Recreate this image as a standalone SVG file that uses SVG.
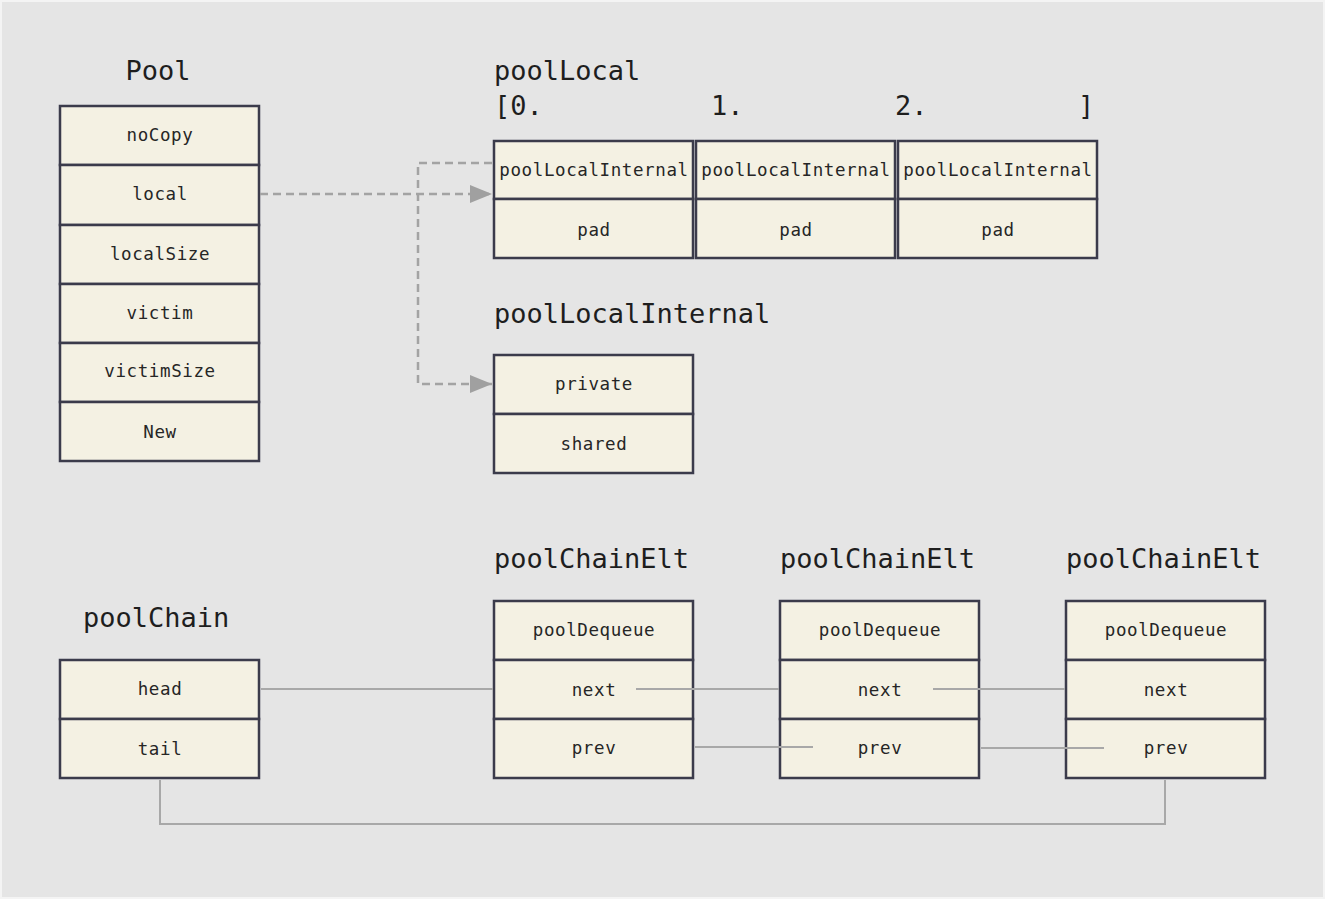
<svg xmlns="http://www.w3.org/2000/svg" width="1325" height="899" viewBox="0 0 1325 899">
<style>
.bg{fill:#e5e5e5;stroke:#f4f4f4;stroke-width:2}
.cell{fill:#f4f1e3;stroke:#3b3b4b;stroke-width:2.5}
.t{font-family:"DejaVu Sans Mono","Liberation Mono",monospace;font-size:17.5px;fill:#262626;text-anchor:middle;letter-spacing:0.6px}
.h{font-family:"DejaVu Sans Mono","Liberation Mono",monospace;font-size:27px;fill:#1e1e1e}
.dash{fill:none;stroke:#a3a3a3;stroke-width:2.5;stroke-dasharray:8 5}
.sol{fill:none;stroke:#a8a8a8;stroke-width:2}
</style>
<defs>
<marker id="arr" markerWidth="22" markerHeight="18" refX="22" refY="9" orient="auto" markerUnits="userSpaceOnUse">
<path d="M0,0 L22,9 L0,18 Z" fill="#a0a0a0"/>
</marker>
</defs>
<rect class="bg" x="1" y="1" width="1323" height="897"/>

<g id="pool">
<text class="h" x="158" y="80" text-anchor="middle">Pool</text>
<rect class="cell" x="60" y="106" width="199" height="59"/>
<rect class="cell" x="60" y="165" width="199" height="60"/>
<rect class="cell" x="60" y="225" width="199" height="59"/>
<rect class="cell" x="60" y="284" width="199" height="59"/>
<rect class="cell" x="60" y="343" width="199" height="59"/>
<rect class="cell" x="60" y="402" width="199" height="59"/>
<text class="t" x="160" y="141">noCopy</text>
<text class="t" x="160" y="200">local</text>
<text class="t" x="160" y="260">localSize</text>
<text class="t" x="160" y="319">victim</text>
<text class="t" x="160" y="377">victimSize</text>
<text class="t" x="160" y="438">New</text>
</g>

<g id="poolLocal">
<text class="h" x="494" y="80">poolLocal</text>
<text class="h" x="494" y="115">[0.</text>
<text class="h" x="711" y="115">1.</text>
<text class="h" x="895" y="115">2.</text>
<text class="h" x="1078" y="115">]</text>
<rect class="cell" x="494" y="141" width="199" height="58"/>
<rect class="cell" x="494" y="199" width="199" height="59"/>
<rect class="cell" x="696" y="141" width="199" height="58"/>
<rect class="cell" x="696" y="199" width="199" height="59"/>
<rect class="cell" x="898" y="141" width="199" height="58"/>
<rect class="cell" x="898" y="199" width="199" height="59"/>
<text class="t" x="594" y="176">poolLocalInternal</text>
<text class="t" x="796" y="176">poolLocalInternal</text>
<text class="t" x="998" y="176">poolLocalInternal</text>
<text class="t" x="594" y="236">pad</text>
<text class="t" x="796" y="236">pad</text>
<text class="t" x="998" y="236">pad</text>
</g>

<g id="poolLocalInternal">
<text class="h" x="494" y="323">poolLocalInternal</text>
<rect class="cell" x="494" y="355" width="199" height="59"/>
<rect class="cell" x="494" y="414" width="199" height="59"/>
<text class="t" x="594" y="390">private</text>
<text class="t" x="594" y="450">shared</text>
</g>

<g id="poolChain">
<text class="h" x="83" y="627">poolChain</text>
<rect class="cell" x="60" y="660" width="199" height="59"/>
<rect class="cell" x="60" y="719" width="199" height="59"/>
<text class="t" x="160" y="695">head</text>
<text class="t" x="160" y="755">tail</text>
</g>

<g id="poolChainElt1">
<text class="h" x="494" y="568">poolChainElt</text>
<rect class="cell" x="494" y="601" width="199" height="59"/>
<rect class="cell" x="494" y="660" width="199" height="59"/>
<rect class="cell" x="494" y="719" width="199" height="59"/>
<text class="t" x="594" y="636">poolDequeue</text>
<text class="t" x="594" y="696">next</text>
<text class="t" x="594" y="754">prev</text>
</g>

<g id="poolChainElt2">
<text class="h" x="780" y="568">poolChainElt</text>
<rect class="cell" x="780" y="601" width="199" height="59"/>
<rect class="cell" x="780" y="660" width="199" height="59"/>
<rect class="cell" x="780" y="719" width="199" height="59"/>
<text class="t" x="880" y="636">poolDequeue</text>
<text class="t" x="880" y="696">next</text>
<text class="t" x="880" y="754">prev</text>
</g>

<g id="poolChainElt3">
<text class="h" x="1066" y="568">poolChainElt</text>
<rect class="cell" x="1066" y="601" width="199" height="59"/>
<rect class="cell" x="1066" y="660" width="199" height="59"/>
<rect class="cell" x="1066" y="719" width="199" height="59"/>
<text class="t" x="1166" y="636">poolDequeue</text>
<text class="t" x="1166" y="696">next</text>
<text class="t" x="1166" y="754">prev</text>
</g>

<g id="connectors">
<path class="dash" d="M260,194 H492" marker-end="url(#arr)"/>
<path class="dash" d="M492,163 H418 V384 H492" marker-end="url(#arr)"/>
<path class="sol" d="M261,689 H493"/>
<path class="sol" d="M636,689 H779"/>
<path class="sol" d="M933,689 H1065"/>
<path class="sol" d="M695,747 H813"/>
<path class="sol" d="M981,748 H1104"/>
<path class="sol" d="M160,780 V824 H1165 V780"/>
</g>
</svg>
